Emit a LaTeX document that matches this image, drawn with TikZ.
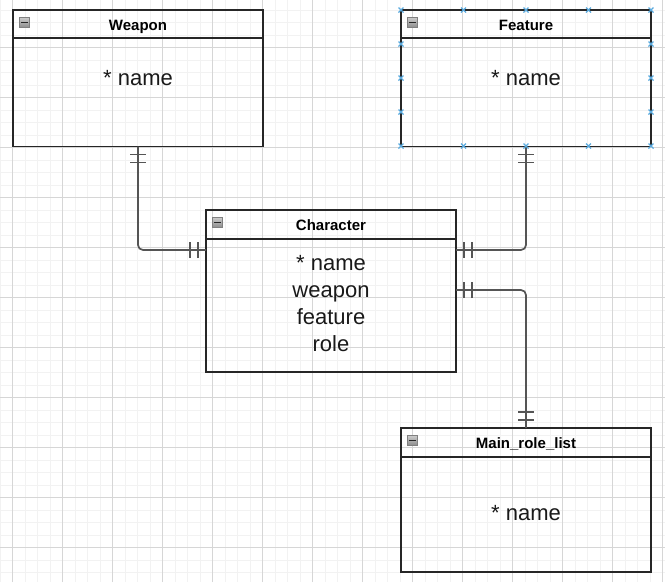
\documentclass[tikz,border=0pt]{standalone}
\usepackage{fontspec}
\setsansfont{Liberation Sans}
\usetikzlibrary{positioning,calc,decorations.markings}

\definecolor{relgray}{RGB}{85,85,85}
\definecolor{hdlblue}{RGB}{90,170,222}
\definecolor{gridminor}{RGB}{242,242,242}
\definecolor{gridmajor}{RGB}{214,214,214}

\begin{document}
\begin{tikzpicture}[
  x=1pt, y=-1pt,
  font=\sffamily,
  ent/.style={rectangle, draw=black!85, line width=1.3pt, minimum width=250pt,
              inner sep=0pt, outer sep=0pt},
  hd/.style={ent, font=\sffamily\bfseries\fontsize{15}{18}\selectfont,
             text height=12pt, text depth=0pt},
  bd/.style={ent},
  attr/.style={font=\sffamily\fontsize{22}{27}\selectfont, align=center,
               inner sep=0pt, text=black!90},
  mn/.style={rectangle, draw=black!50, top color=black!20, bottom color=black!45,
             minimum size=10pt, inner sep=0pt, line width=0.7pt,
             path picture={\draw[black!85, line width=1.5pt]
               ([xshift=1.5pt]path picture bounding box.west) --
               ([xshift=-1.5pt]path picture bounding box.east);}},
  bar/.style={draw=relgray, line width=1.3pt},
  rel/.style={draw=relgray, line width=1.7pt, rounded corners=5pt,
              postaction={decorate, decoration={markings,
                mark=at position 8pt with {\draw[bar] (0,-8pt) -- (0,8pt);},
                mark=at position 16pt with {\draw[bar] (0,-8pt) -- (0,8pt);},
                mark=at position -8pt with {\draw[bar] (0,-8pt) -- (0,8pt);},
                mark=at position -16pt with {\draw[bar] (0,-8pt) -- (0,8pt);}}}},
  hdl/.style={draw=hdlblue, line width=1.1pt}
]
\useasboundingbox (0,0) rectangle (665,582);

% grid
\begin{scope}[shift={(12.5,-2.5)}]
  \draw[gridminor, line width=0.6pt, step=12.5pt] (-12.5,2.5) grid (652.5,584.5);
  \draw[gridmajor, line width=0.8pt, step=50pt] (-12.5,2.5) grid (652.5,584.5);
\end{scope}

% entities
\node[hd, minimum height=28pt] (weapon-head) at (138,24) {Weapon};
\node[bd, minimum height=108.5pt, below=0pt of weapon-head] (weapon-body) {};
\node[attr, anchor=base] (weapon-attr) at ([yshift=-47pt]weapon-body.north) {* name};

\node[hd, minimum height=28pt] (feature-head) at (526,24) {Feature};
\node[bd, minimum height=108.5pt, below=0pt of feature-head] (feature-body) {};
\node[attr, anchor=base] (feature-attr) at ([yshift=-47pt]feature-body.north) {* name};

\node[hd, minimum height=29pt] (char-head) at (331,224.5) {Character};
\node[bd, minimum height=133pt, below=0pt of char-head] (char-body) {};
\node[attr, anchor=north] (char-attr) at ([yshift=-16pt]char-body.north)
  {* name\\weapon\\feature\\role};

\node[hd, minimum height=29pt] (main-head) at (526,442.5) {Main\_role\_list};
\node[bd, minimum height=115pt, below=0pt of main-head] (main-body) {};
\node[attr, anchor=base] (main-attr) at ([yshift=-63pt]main-body.north) {* name};

% collapse icons
\foreach \e in {weapon,feature,char,main}
  \node[mn, anchor=north west] (\e-mn) at ([xshift=6pt,yshift=-7pt]\e-head.north west) {};

% relations
\draw[rel] (weapon-body.south) |- ([yshift=-11pt]char-body.north west);
\draw[rel] (feature-body.south) |- ([yshift=-11pt]char-body.north east);
\draw[rel] ([yshift=-51pt]char-body.north east) -| (main-head.north);

% selection handles on Feature
\foreach \hx in {401,463.5,526,588.5,651}
  \foreach \hy in {10,146}
    \draw[hdl] (\hx,\hy) +(-2.5,-2.5) -- +(2.5,2.5) +(-2.5,2.5) -- +(2.5,-2.5);
\foreach \hx in {401,651}
  \foreach \hy in {44,78,112}
    \draw[hdl] (\hx,\hy) +(-2.5,-2.5) -- +(2.5,2.5) +(-2.5,2.5) -- +(2.5,-2.5);
\end{tikzpicture}
\end{document}
